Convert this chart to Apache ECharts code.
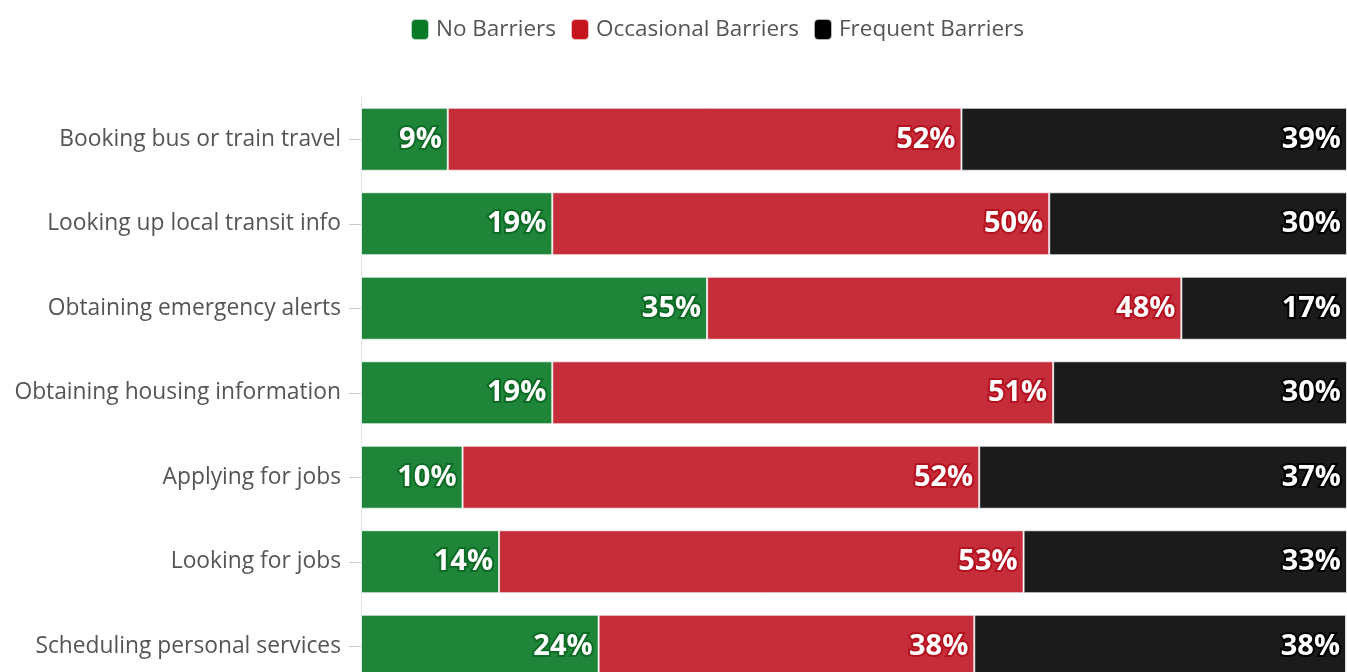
<!DOCTYPE html>
<html>
<head>
<meta charset="utf-8">
<script src="https://cdn.jsdelivr.net/npm/echarts@6/dist/echarts.min.js"></script>
<style>
html,body{margin:0;padding:0;overflow:hidden;background:#fff;}
#c{width:1347px;height:700px;}
</style>
</head>
<body>
<div id="c"></div>
<script>
const categories = [
  "Booking bus or train travel",
  "Looking up local transit info",
  "Obtaining emergency alerts",
  "Obtaining housing information",
  "Applying for jobs",
  "Looking for jobs",
  "Scheduling personal services"
];
const seriesNames = ["No Barriers", "Occasional Barriers", "Frequent Barriers"];
const noBarriers = [8.8, 19.4, 35.1, 19.4, 10.3, 14.0, 24.1];
const occasionalBarriers = [52.1, 50.4, 48.1, 50.8, 52.4, 53.2, 38.1];
const frequentBarriers = [39.1, 30.2, 16.8, 29.8, 37.3, 32.8, 37.7];

const barColors = ["#1f8539", "#c62d3a", "#1b1b1b"];
const legendColors = ["#0b7a26", "#c4161c", "#000000"];
const borderText = ["#0e6b25", "#b5121f", "#000000"];
const values = [noBarriers, occasionalBarriers, frequentBarriers];

const chart = echarts.init(document.getElementById('c'));
const FONT = 'Open Sans';
chart.setOption({
  animation: false,
  textStyle: { fontFamily: FONT },
  legend: {
    top: 13,
    left: 405,
    itemWidth: 18,
    itemHeight: 21,
    itemGap: 14,
    icon: 'roundRect',
    textStyle: { color: '#555', fontSize: 22.5, fontFamily: FONT, padding: [0, 0, 0, 2] },
    data: seriesNames.map((n, i) => ({ name: n, itemStyle: { color: legendColors[i] } }))
  },
  grid: { left: 361, right: 0, top: 97, bottom: 11.5, containLabel: false },
  xAxis: {
    type: 'value', min: 0, max: 100, show: false
  },
  yAxis: {
    type: 'category',
    data: categories,
    inverse: true,
    axisLine: { show: true, lineStyle: { color: '#e6e6e6', width: 1 } },
    axisTick: { show: true, length: 12, lineStyle: { color: '#cccccc' }, alignWithLabel: true },
    axisLabel: { color: '#555', fontSize: 22.8, fontFamily: FONT, margin: 20, padding: [6, 0, 0, 0] }
  },
  series: values.map((v, i) => ({
    name: seriesNames[i],
    type: 'bar',
    stack: 'total',
    data: v,
    barWidth: '74.5%',
    itemStyle: { color: barColors[i], borderColor: 'rgba(255,255,255,0.7)', borderWidth: 1 },
    label: {
      show: true,
      position: 'insideRight',
      distance: 6,
      formatter: p => Math.round(p.value) + '%',
      color: '#fff',
      fontSize: 29,
      fontWeight: 'bold',
      fontFamily: FONT,
      padding: [8, 0, 0, 0],
      textBorderColor: borderText[i],
      textBorderWidth: 4
    }
  }))
});
</script>
</body>
</html>
